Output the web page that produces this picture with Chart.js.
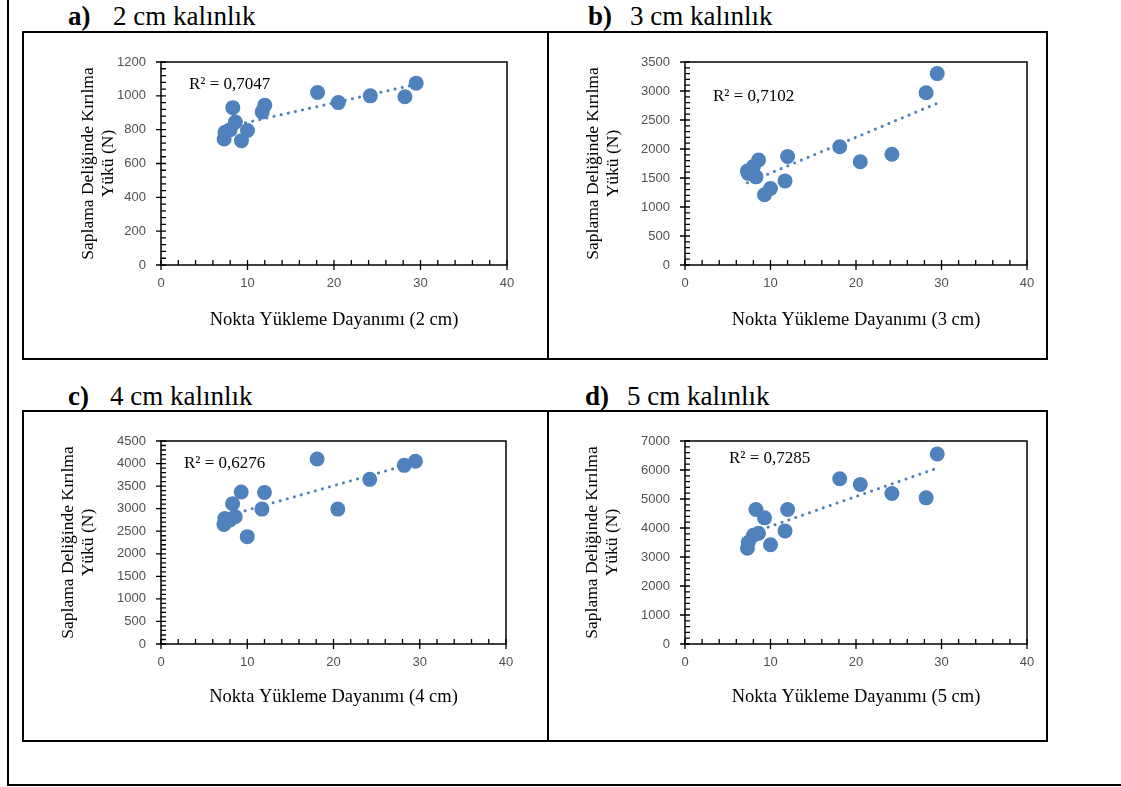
<!DOCTYPE html>
<html><head><meta charset="utf-8">
<script src="https://cdn.jsdelivr.net/npm/chart.js@4.4.1/dist/chart.umd.min.js"></script>
<style>
body{margin:0;background:#fff;width:1121px;height:787px;position:relative;overflow:hidden;font-family:'Liberation Serif','Times New Roman',serif;color:#000}
.ln{position:absolute;background:#000}
.box{position:absolute;border:2px solid #000;box-sizing:border-box;pointer-events:none}
.ttl{position:absolute;font-size:27px;line-height:30px;white-space:nowrap}
.ttl b{position:absolute;left:0;top:0}
.ttl span{position:absolute;top:0}
canvas{position:absolute}
</style></head>
<body>
<div class="ln" style="left:7px;top:0;width:2px;height:786px"></div>
<div class="ln" style="left:7px;top:784px;width:1114px;height:2px"></div>
<div id="root"></div>
<script>
// ---- data ----
const pointLoadIndex = [7.3, 7.4, 8.0, 8.3, 8.6, 9.3, 10.0, 11.7, 12.0, 18.1, 20.5, 24.2, 28.2, 29.5];
const load2cm = [745, 785, 800, 930, 845, 735, 795, 905, 945, 1020, 960, 1000, 995, 1075];
const load3cm = [1620, 1580, 1700, 1520, 1810, 1210, 1320, 1450, 1870, 2040, 1780, 1910, 2970, 3300];
const load4cm = [2650, 2780, 2750, 3110, 2820, 3370, 2380, 2990, 3360, 4100, 2990, 3650, 3960, 4050];
const load5cm = [3300, 3500, 3750, 4640, 3820, 4350, 3420, 3900, 4640, 5700, 5500, 5190, 5040, 6550];
const r2Labels = ['R² = 0,7047', 'R² = 0,7102', 'R² = 0,6276', 'R² = 0,7285'];
const panelLetters = ['a)', 'b)', 'c)', 'd)'];
const panelTitles = ['2 cm kalınlık', '3 cm kalınlık', '4 cm kalınlık', '5 cm kalınlık'];
const xTitles = ['Nokta Yükleme Dayanımı (2 cm)', 'Nokta Yükleme Dayanımı (3 cm)', 'Nokta Yükleme Dayanımı (4 cm)', 'Nokta Yükleme Dayanımı (5 cm)'];
const yTitleLines = ['Saplama Deliğinde Kırılma', 'Yükü (N)'];
const xAxisMax = 40, xAxisStep = 10, xMinorStep = 2;
const yAxisMax = [1200, 3500, 4500, 7000];
const yAxisStep = [200, 500, 500, 1000];
const yMinorStep = [40, 100, 100, 200];
const seriesY = [load2cm, load3cm, load4cm, load5cm];

// ---- layout (page pixels) ----
const layoutCfg = [
  {box:[22,31,525,327], area:{L:161,R:507,T:62,B:265}, ytX:88, xtY:320, title:[68,1,113], r2:[28,23]},
  {box:[547,31,499,327], area:{L:685,R:1027,T:62,B:265}, ytX:593, xtY:320, title:[588,1,630], r2:[28,35]},
  {box:[22,410,525,330], area:{L:161,R:506,T:441,B:644}, ytX:68, xtY:697, title:[68,381,110], r2:[23,23]},
  {box:[547,410,499,330], area:{L:685,R:1027,T:441,B:644}, ytX:592, xtY:697, title:[585,381,627], r2:[44,18]}
];

const BLUE = '#4F81BD';
const YT_FONT = 17.5, XT_FONT = 18.5, TITLE_LH = 20;

const framePlugin = {
  id: 'frame',
  afterDraw(chart, args, o) {
    const {ctx, chartArea: a, scales: {x, y}} = chart;
    ctx.save();
    ctx.strokeStyle = '#000';
    ctx.lineWidth = 1.5;
    ctx.strokeRect(a.left, a.top, a.right - a.left, a.bottom - a.top);
    ctx.lineWidth = 1.3;
    ctx.beginPath();
    const yn = Math.round(y.max / o.yMinor);
    for (let i = 0; i <= yn; i++) {
      const v = i * o.yMinor;
      const p = y.getPixelForValue(v);
      const major = Math.abs(v / o.yStep - Math.round(v / o.yStep)) < 1e-6;
      ctx.moveTo(a.left - (major ? 5 : 0), p);
      ctx.lineTo(a.left + 5, p);
    }
    const xn = Math.round(x.max / o.xMinor);
    for (let i = 0; i <= xn; i++) {
      const v = i * o.xMinor;
      const p = x.getPixelForValue(v);
      const major = Math.abs(v / o.xStep - Math.round(v / o.xStep)) < 1e-6;
      ctx.moveTo(p, a.bottom - 5);
      ctx.lineTo(p, a.bottom + (major ? 5 : 0));
    }
    ctx.stroke();
    ctx.fillStyle = '#000';
    ctx.font = '17px "Liberation Serif", serif';
    ctx.textBaseline = 'middle';
    ctx.textAlign = 'left';
    ctx.fillText(o.r2Text, a.left + o.r2Pos[0], a.top + o.r2Pos[1]);
    ctx.restore();
  }
};

function linearFit(xs, ys) {
  const n = xs.length;
  let sx = 0, sy = 0, sxx = 0, sxy = 0;
  for (let i = 0; i < n; i++) { sx += xs[i]; sy += ys[i]; sxx += xs[i] * xs[i]; sxy += xs[i] * ys[i]; }
  const b = (n * sxy - sx * sy) / (n * sxx - sx * sx);
  const a0 = (sy - b * sx) / n;
  return v => a0 + b * v;
}

const root = document.getElementById('root');
layoutCfg.forEach((L, k) => {
  const [bx, by, bw, bh] = L.box;
  const t = document.createElement('div');
  t.className = 'ttl';
  t.style.left = L.title[0] + 'px'; t.style.top = L.title[1] + 'px';
  t.innerHTML = '<b>' + panelLetters[k] + '</b><span style="left:' + (L.title[2] - L.title[0]) + 'px">' + panelTitles[k] + '</span>';
  root.appendChild(t);

  const cv = document.createElement('canvas');
  cv.width = bw; cv.height = bh;
  cv.style.left = bx + 'px'; cv.style.top = by + 'px';
  cv.style.width = bw + 'px'; cv.style.height = bh + 'px';
  root.appendChild(cv);
  const box = document.createElement('div');
  box.className = 'box';
  box.style.left = bx + 'px'; box.style.top = by + 'px';
  box.style.width = (bw + 2) + 'px'; box.style.height = (bh + 2) + 'px';
  root.appendChild(box);

  const aL = L.area.L - bx, aR = L.area.R - bx, aT = L.area.T - by, aB = L.area.B - by;
  const padLeft = (L.ytX - bx) - TITLE_LH / 2;
  const yWidth = aL - padLeft;
  const scaleBottom = (L.xtY - by) + TITLE_LH / 2;
  const padBottom = bh - scaleBottom;
  const xHeight = scaleBottom - aB;

  const xs = pointLoadIndex, ys = seriesY[k];
  const fit = linearFit(xs, ys);
  const xmin = Math.min(...xs), xmax = Math.max(...xs);

  new Chart(cv, {
    type: 'scatter',
    data: {
      datasets: [
        {
          type: 'line',
          data: [{x: xmin, y: fit(xmin)}, {x: xmax, y: fit(xmax)}],
          borderColor: BLUE, borderWidth: 3, borderDash: [0.1, 7.2], borderCapStyle: 'round',
          pointRadius: 0, fill: false
        },
        {
          data: xs.map((v, i) => ({x: v, y: ys[i]})),
          backgroundColor: BLUE, borderColor: BLUE, borderWidth: 0,
          pointRadius: 7.5, pointHoverRadius: 7.5
        }
      ]
    },
    options: {
      responsive: false, animation: false,
      events: [],
      layout: {padding: {left: padLeft, right: bw - aR, top: aT, bottom: padBottom}},
      plugins: {legend: {display: false}, tooltip: {enabled: false},
        frame: {yMinor: yMinorStep[k], yStep: yAxisStep[k], xMinor: xMinorStep, xStep: xAxisStep, r2Text: r2Labels[k], r2Pos: L.r2}},
      scales: {
        x: {
          type: 'linear', min: 0, max: xAxisMax,
          ticks: {stepSize: xAxisStep, padding: 11, color: '#505050', callback: v => String(v),
            font: {family: '"Liberation Sans", Arial, sans-serif', size: 13}},
          grid: {display: false, drawTicks: false},
          border: {display: false},
          title: {display: true, text: xTitles[k], color: '#000', padding: 0,
            font: {family: '"Liberation Serif", serif', size: XT_FONT, lineHeight: TITLE_LH / XT_FONT}},
          afterFit: s => { s.height = xHeight; }
        },
        y: {
          type: 'linear', min: 0, max: yAxisMax[k],
          ticks: {stepSize: yAxisStep[k], padding: 15, autoSkip: false, color: '#505050', callback: v => String(v),
            font: {family: '"Liberation Sans", Arial, sans-serif', size: 13}},
          grid: {display: false, drawTicks: false},
          border: {display: false},
          title: {display: true, text: yTitleLines, color: '#000', padding: 0,
            font: {family: '"Liberation Serif", serif', size: YT_FONT, lineHeight: TITLE_LH / YT_FONT}},
          afterFit: s => { s.width = yWidth; }
        }
      }
    },
    plugins: [framePlugin]
  });
});
</script>
</body></html>
